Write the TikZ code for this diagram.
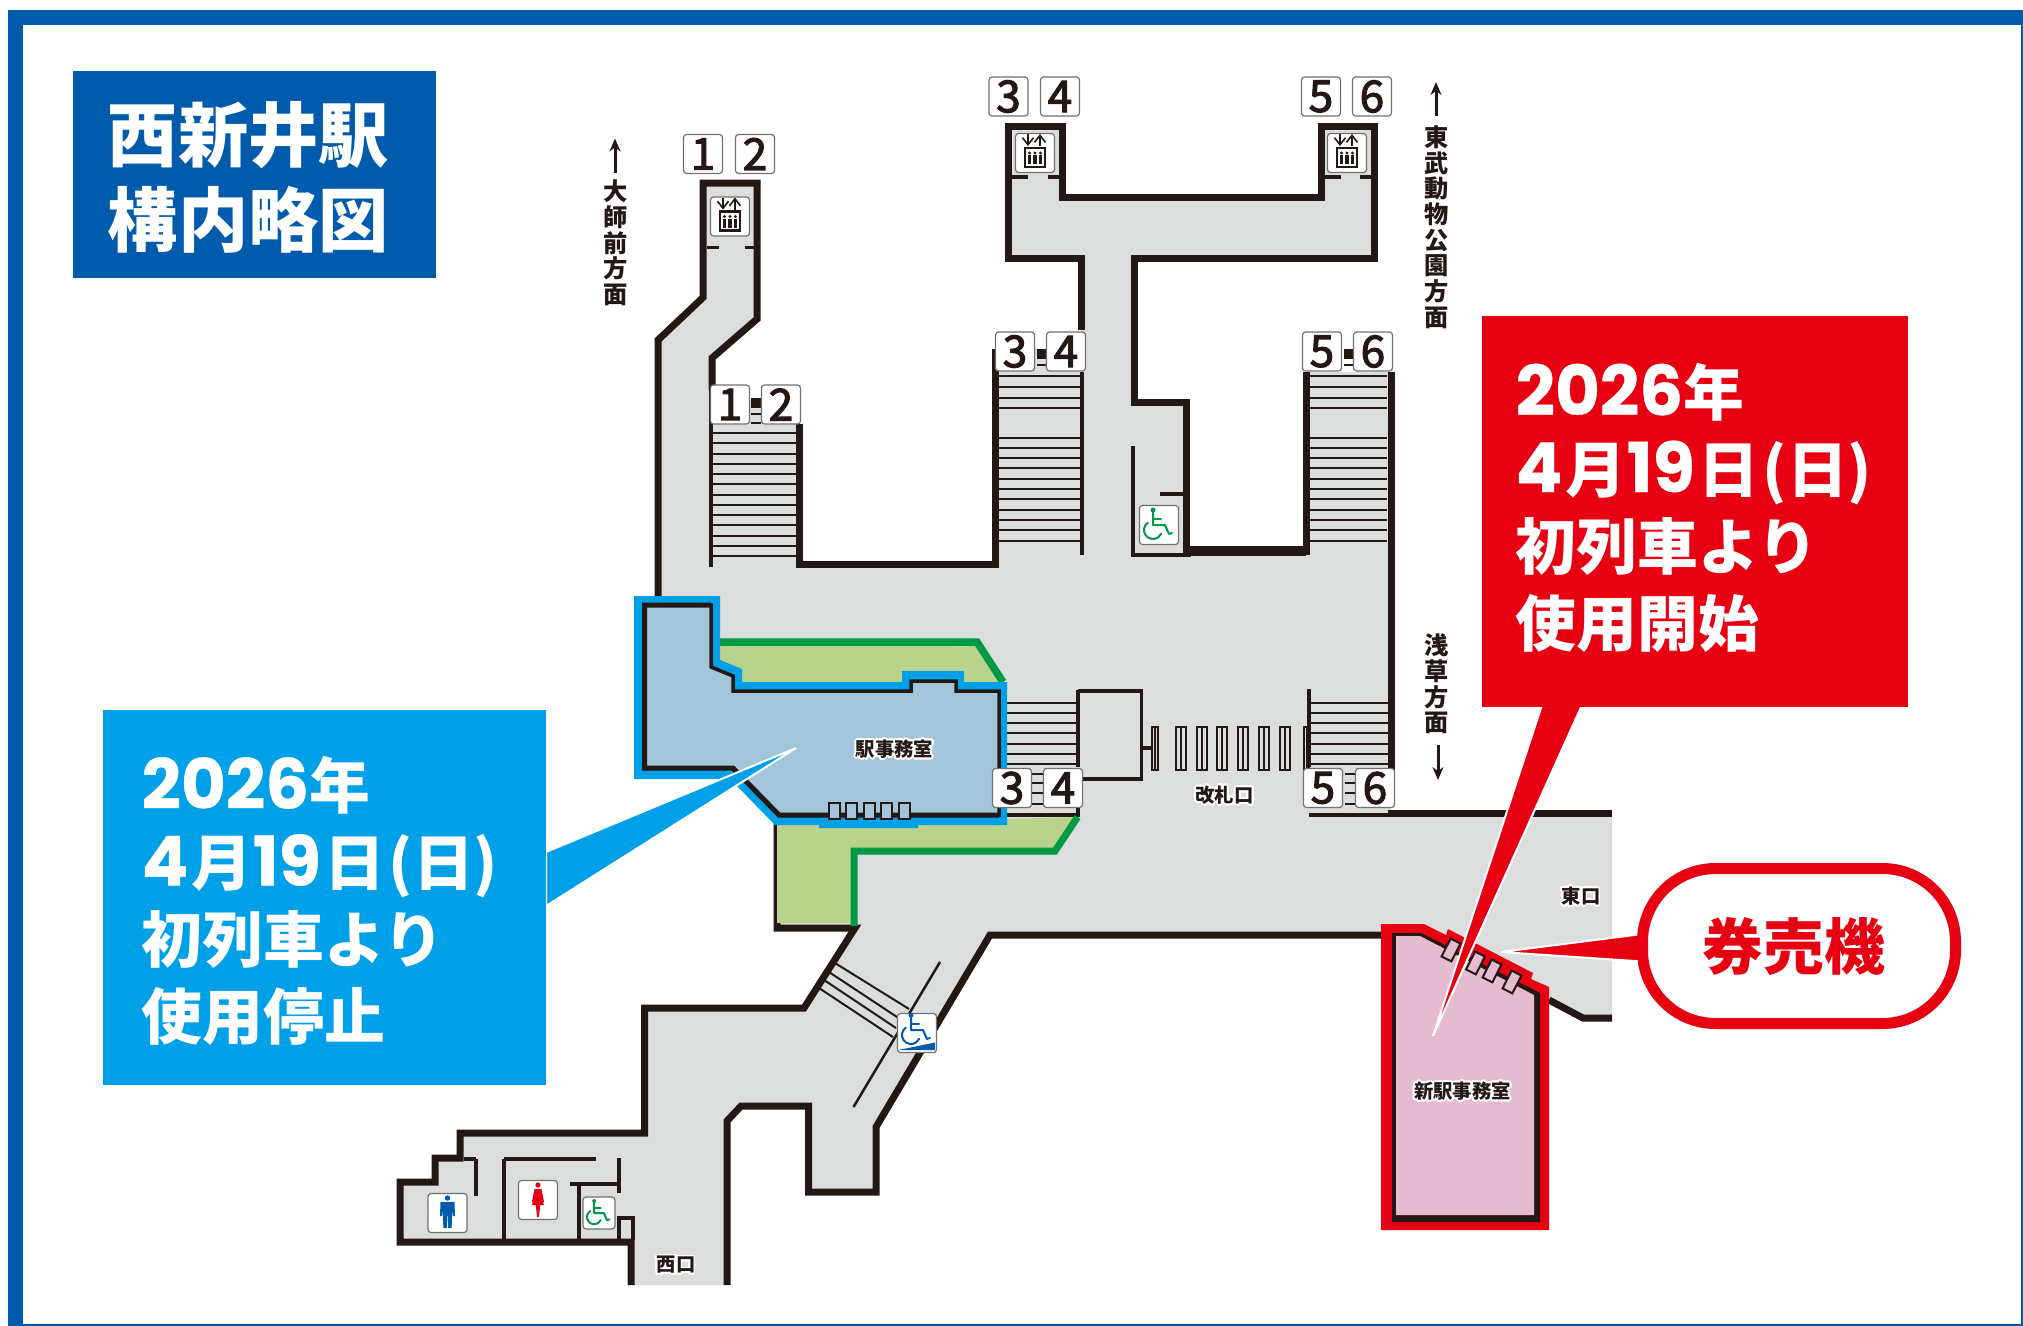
\documentclass[tikz,border=0pt]{standalone}
\usepackage{fontspec}
\usepackage[copies]{contour}
\setmainfont{Noto Sans CJK JP}
\newfontfamily\numfont[FakeBold=2.6]{Noto Sans CJK JP}
\newfontfamily\digfont[FakeBold=0.5]{Poppins}
\contourlength{0.55pt}
\definecolor{framecol}{HTML}{005BAC}
\definecolor{floorcol}{HTML}{DCDDDD}
\definecolor{wallcol}{HTML}{231815}
\definecolor{stopcol}{HTML}{00A0E9}
\definecolor{oldroom}{HTML}{A2C5D9}
\definecolor{startcol}{HTML}{E60012}
\definecolor{newroom}{HTML}{E6BBD0}
\definecolor{greenline}{HTML}{009944}
\definecolor{greenfill}{HTML}{B9D38D}
\definecolor{signline}{HTML}{727171}
\newcommand\labelfont{\fontsize{5.5}{6.5}\selectfont}
\newcommand\dirfont{\fontsize{6.9}{7.3}\selectfont\bfseries}
\newcommand\dg[1]{{\digfont\fontsize{19.6}{21.9}\selectfont #1}}
\usetikzlibrary{arrows.meta}
\begin{document}
\begin{tikzpicture}
	[x=0.1mm,y=-0.1mm,%
	wall/.style ={draw=wallcol,	line width=0.7mm,	line join=miter},%
	thinwall/.style ={draw=wallcol,	line width=0.35mm},%
	tread/.style ={draw=wallcol,	line width=0.2mm},%
	numsign/.style ={rectangle,	draw=signline,	fill=white,	line width=0.12mm,	rounded corners=0.3mm,	inner sep=0pt,	minimum size=3.9mm,	font=\numfont\fontsize{12.5}{13}\selectfont,	text=wallcol},%
	iconsign/.style ={rectangle,	draw=signline,	fill=white,	line width=0.12mm,	rounded corners=0.3mm,	inner sep=0pt,	minimum size=3.9mm},%
	gate/.style ={rectangle,	draw=wallcol,	fill=floorcol,	line width=0.2mm,	inner sep=0pt,	minimum height=4.3mm,	minimum width=1mm},%
	machine/.style ={rectangle,	draw=wallcol,	line width=0.2mm,	inner sep=0pt,	minimum height=1.6mm,	minimum width=1.1mm},%
	maplabel/.style ={font=\labelfont\bfseries,	text=wallcol,	inner sep=0pt},%
	callout/.style ={rectangle,	inner sep=0pt},%
	callouttext/.style ={inner sep=0pt,	anchor=west,	text=white,	align=left,	font=\bfseries\fontsize{17.3}{21.9}\selectfont},%
	]

	\newcommand\wheelchair[4]{%
		\begin{scope}[shift={(#1,#2)},scale=#3,draw=#4,fill=#4,line width=0.2mm,line cap=round,line join=round]
			\fill [#4] (-6,-15) circle (2.5);
			\draw (-6,-13) -- (-6,0) -- (6,0) -- (10,9) -- (13,8);
			\draw (-6,-6) -- (2,-6);
			\draw (-6,5) ++(-125:9) arc [start angle=-125, end angle=-335, radius=9];
		\end{scope}}
	\newcommand\lift[2]{%
		\begin{scope}[shift={(#1,#2)}]
			\draw [-{Straight Barb[length=0.7mm,width=1.1mm]}, wallcol, line width=0.16mm] (-7,-19) -- (-7,-7);
			\draw [-{Straight Barb[length=0.7mm,width=1.1mm]}, wallcol, line width=0.16mm] (5,-7) -- (5,-19);
			\draw [wallcol, line width=0.25mm] (-10,-5) rectangle (10,14);
			\foreach \p in {-5.5,0,5.5} {
				\fill [wallcol] (\p,0) circle (1.6);
				\draw [wallcol, line width=0.32mm] (\p,2) -- (\p,11);
			}
		\end{scope}}

	% frame
	\fill [framecol] (8,10) rectangle (2023,1326);
	\fill [white] (23,25) rectangle (2021,1324);
	\useasboundingbox (0,0) rectangle (2023,1326);
	\node (title) at (254.5,174.5) [rectangle, fill=framecol, minimum width=36.3mm, minimum height=20.7mm, inner sep=0pt] {};
	\node (titletext) at (248.5,177) [inner sep=0pt, text=white, align=center, font=\bfseries\fontsize{20}{24.2}\selectfont] {西新井駅\\構内略図};

	% floor
	\fill [floorcol] (703,183) -- (757,183) -- (757,319) -- (712,358) -- (712,400) -- (799,400) -- (799,564) -- (995,564) -- (995,349) -- (1081,349) -- (1081,258) -- (1008,258) -- (1008,126) -- (1062,126) -- (1062,197) -- (1321,197) -- (1321,126) -- (1374,126) -- (1374,258) -- (1134,258) -- (1134,402) -- (1186,402) -- (1186,551) -- (1306,551) -- (1306,372) -- (1391,372) -- (1391,813) -- (1612,813) -- (1612,1018) -- (1583,1018) -- (1549,1000) -- (1383,935) -- (990,935) -- (876,1127) -- (876,1192) -- (808.6,1192) -- (808.6,1106) -- (741,1106) -- (727,1121) -- (727,1285) -- (631,1285) -- (631,1242) -- (400,1242) -- (400,1182) -- (435,1182) -- (435,1158) -- (460,1158) -- (460,1133) -- (644.5,1133) -- (644.5,1008) -- (804,1008) -- (855,928) -- (777,928) -- (777,822) -- (745,780) -- (700,775) -- (700,600) -- (658,600) -- (658,340) -- (703,297.5) -- cycle;

	% stairs
	\foreach \i in {0,...,12}
		\draw [tread] (712,433+10.25*\i) -- (796,433+10.25*\i);
	\foreach \y in {376,387,397.5,408,438,448,458,468,478.6,489,499,510,520,530,541} {
		\draw [tread] (998,\y) -- (1081,\y);
		\draw [tread] (1309,\y) -- (1387,\y);
	}
	\foreach \y in {703,713,723,733,744,754,764} {
		\draw [tread] (1007,\y) -- (1077,\y);
		\draw [tread] (1310,\y) -- (1388,\y);
	}
	\foreach \y in {774,783,793,804} {
		\draw [tread] (1032,\y) -- (1043,\y);
		\draw [tread] (1344.5,\y) -- (1355,\y);
	}
	% ramp
	\foreach \a/\b/\c/\d in {835/963/909/1009, 829/972/900/1019, 824/980/896/1028, 819/988/893/1037}
		\draw [thinwall, line width=0.2mm] (\a,\b) -- (\c,\d);
	\draw [thinwall, line width=0.25mm] (940,962) -- (853.5,1107);

	% walls
	\draw [wall] (658,600) -- (658,340) -- (703,297.5) -- (703,183) -- (757,183) -- (757,319) -- (712,358) -- (712,390);
	\draw [wall] (799,424) -- (799,564) -- (995,564) -- (995,349);
	\draw [wall] (1081,330) -- (1081,258) -- (1008,258) -- (1008,126) -- (1062,126) -- (1062,197) -- (1321,197) -- (1321,126) -- (1374,126) -- (1374,258) -- (1134,258) -- (1134,402) -- (1186,402) -- (1186,551) -- (1306,551) -- (1306,372);
	\draw [wall, line width=0.95mm] (1186,551) -- (1306,551);
	\draw [wall] (1391,372) -- (1391,770);
	\draw [wall] (1388,813) -- (1612,813);
	\draw [wall] (1400,935) -- (990,935) -- (876,1127) -- (876,1192) -- (808.6,1192) -- (808.6,1106) -- (741,1106) -- (727,1121) -- (727,1285);
	\draw [wall] (631,1285) -- (631,1242) -- (400,1242) -- (400,1182) -- (435,1182) -- (435,1158) -- (460,1158) -- (460,1133) -- (644.5,1133) -- (644.5,1008) -- (804,1008) -- (855,928) -- (777,928) -- (777,822);
	\draw [wall] (1612,1018) -- (1583,1018) -- (1549,1000);

	% thin walls
	\foreach \a/\b/\c/\d in {711/385/711/567, 1082/372/1082/555, 1131/555/1191/555, 1133/446/1133/555, 1160/494/1186/494, 707/247.5/719/247.5, 745/247.5/757/247.5, 1011/177/1028/177, 1048/177/1061/177, 1325/177/1341/177, 1360/177/1372/177, 1078/690/1078/767, 1078/808/1078/817, 1007/815/1078/815, 1309/689/1309/767, 1309/815/1388/815, 1152/748/1142/748, 504/1159/596/1159, 504/1159/504/1240, 570/1184/619/1184, 619/1158/619/1193, 579/1184/579/1240, 464/1159/476/1159, 476/1159/476/1196}
		\draw [thinwall] (\a,\b) -- (\c,\d);
	\draw [thinwall] (619,1240) -- (619,1218) -- (633,1218) -- (633,1240);
	\draw [thinwall] (1083,779) -- (1141.5,779) -- (1141.5,691) -- (1077.6,691);
	\foreach \x/\y in {1041.5/353.5, 1348.5/353.5, 756/402.5}
		\fill [wallcol] (\x-5,\y-5) rectangle (\x+5,\y+5);
	\foreach \x/\y in {1042/365, 1348.5/365, 756/413.5, 756/423}
		\draw [tread] (\x-5,\y) -- (\x+5,\y);

	% gates
	\foreach \n/\x/\w in {0/1155/0.6, 1/1181/1, 2/1202/1, 3/1222/1, 4/1243/1, 5/1264/1, 6/1285/1, 7/1306.5/0.5} {
		\node (gate\n) at (\x,748.5) [gate, minimum width=\w mm] {};
		\draw [tread] (gate\n.north) -- (gate\n.south);
	}

	% green areas
	\fill [greenfill] (720,642) -- (977,642) -- (1003,682) -- (720,682) -- cycle;
	\draw [greenline, line width=0.75mm] (720,642) -- (977,642) -- (1003,682);
	\fill [greenfill] (777,825) -- (1077,817) -- (1056,851) -- (854,851) -- (854,923) -- (777,923) -- cycle;
	\draw [greenline, line width=0.7mm] (1077.6,817) -- (1055,851) -- (854,851) -- (854,926);

	% old office
	\fill [stopcol] (634,596) -- (720,596) -- (720,660) -- (742,669) -- (742,682) -- (902,682) -- (902,671) -- (964,671) -- (964,682) -- (1007,682) -- (1007,825) -- (918,825) -- (918,828) -- (819,828) -- (819,825) -- (775,825) -- (738,787) -- (717,779) -- (634,779) -- cycle;
	\draw [fill=oldroom, draw=wallcol, line width=0.35mm] (644.5,605) -- (711,605) -- (711,667) -- (733,676) -- (733,691) -- (911,691) -- (911,681) -- (956,681) -- (956,691) -- (999,691) -- (999,815) -- (779,815) -- (733,768) -- (644.5,768) -- cycle;
	\draw [wall, line width=0.5mm] (711,605) -- (644.5,605) -- (644.5,768) -- (733,768) -- (779,815) -- (999,815);
	\foreach \n/\x in {0/834, 1/851.5, 2/869, 3/886.5, 4/904}
		\node (oldmachine\n) at (\x,811) [machine, fill=oldroom] {};
	\node (oldname) at (894.5,750) [maplabel] {\contour{white}{駅事務室}};

	% new office
	\fill [startcol] (1381,924) -- (1424,924) -- (1446,935) -- (1448,929) -- (1533,973) -- (1531,979) -- (1549,987) -- (1549,1230) -- (1381,1230) -- cycle;
	\fill [wallcol] (1392,933) -- (1421,933) -- (1540,993) -- (1540,1222) -- (1392,1222) -- cycle;
	\fill [newroom] (1396,936) -- (1420,936) -- (1534,995) -- (1534,1215) -- (1396,1215) -- cycle;
	\foreach \n/\x/\y in {0/1451/950, 1/1475.5/963, 2/1492/971, 3/1512/982}
		\node (newmachine\n) at (\x,\y) [machine, fill=newroom, minimum height=2mm, rotate=-27] {};
	\node (newname) at (1462.5,1092) [maplabel] {\contour{white}{新駅事務室}};

	% other labels
	\node (gatename) at (1224.6,796) [maplabel] {\contour{white}{改札口}};
	\node (eastname) at (1581,897) [maplabel] {\contour{white}{東口}};
	\node (westname) at (676,1266) [maplabel] {\contour{white}{西口}};

	% direction labels
	\node (dirdaishi) at (616,243) [inner sep=0pt, align=center, font=\dirfont, text=wallcol] {大\\師\\前\\方\\面};
	\coordinate (arrdaishi) at (615,138.5);
	\draw [-{Stealth[length=1.3mm,width=1.1mm]}, wallcol, line width=0.3mm] (615,172.5) -- (arrdaishi);
	\node (dirtobu) at (1437,227) [inner sep=0pt, align=center, font=\dirfont, text=wallcol] {東\\武\\動\\物\\公\\園\\方\\面};
	\coordinate (arrtobu) at (1436,82);
	\draw [-{Stealth[length=1.3mm,width=1.1mm]}, wallcol, line width=0.3mm] (1436,116) -- (arrtobu);
	\node (dirasakusa) at (1437,684) [inner sep=0pt, align=center, font=\dirfont, text=wallcol] {浅\\草\\方\\面};
	\coordinate (arrasakusa) at (1438,780);
	\draw [-{Stealth[length=1.3mm,width=1.1mm]}, wallcol, line width=0.3mm] (1438,745) -- (arrasakusa);

	% number signs
	\foreach \n/\t/\x/\y in {a1/1/703/154, a2/2/755/154, b3/3/1008.5/96.5, b4/4/1060/96.5, c5/5/1321/96.5, c6/6/1372/96.5, %
												d1/1/730/404.5, d2/2/781/404.5, e3/3/1015/351.5, e4/4/1066/351.5, f5/5/1322/351.5, f6/6/1373/351.5, %
												g3/3/1012/788, g4/4/1063/788, h5/5/1323/788, h6/6/1375/788 %
												}
		\node (sign\n) at (\x,\y) [numsign] {\t};

	% icons
	\foreach \n/\x/\y in {0/730/216.5, 1/1035/153, 2/1347/153} {
		\node (liftsign\n) at (\x,\y) [iconsign] {};
		\lift{\x}{\y}
	}
	\node (chairsign0) at (1159,525) [iconsign] {};
	\wheelchair{1159}{525}{1}{greenline}
	\node (chairsign1) at (599,1213) [iconsign, minimum size=3.2mm] {};
	\wheelchair{599}{1213}{0.8}{greenline}
	\node (rampsign) at (917,1033) [iconsign] {};
	\wheelchair{917}{1030}{1}{framecol}
	\fill [framecol] (898.5,1050) -- (935,1042.5) -- (935,1050) -- cycle;
	\node (mansign) at (447.5,1213) [iconsign] {};
	\begin{scope}[shift={(447.5,1213)}]
		\fill [framecol] (0,-15) circle (2.7);
		\fill [framecol] (-7,-11) -- (7,-11) -- (7.5,3) -- (5.2,3) -- (4.5,-3) -- (4.2,15) -- (0.6,15) -- (0.4,3) -- (-0.4,3) -- (-0.6,15) -- (-4.2,15) -- (-4.5,-3) -- (-5.2,3) -- (-7.5,3) -- cycle;
	\end{scope}
	\node (womansign) at (538,1200) [iconsign] {};
	\begin{scope}[shift={(538,1200)}]
		\fill [startcol] (0,-15) circle (2.6);
		\fill [startcol] (-3.5,-11) -- (3.5,-11) -- (6,2) -- (4.5,2) -- (3,-4) -- (6,5) -- (2.2,5) -- (1,17) -- (-1,17) -- (-2.2,5) -- (-6,5) -- (-3,-4) -- (-4.5,2) -- (-6,2) -- cycle;
	\end{scope}

	% callouts
	\draw [fill=stopcol, draw=white, line width=0.2mm] (546,852) -- (796,748) -- (546,906) -- cycle;
	\node (stopbox) at (324.5,897.5) [callout, fill=stopcol, minimum width=44.3mm, minimum height=37.5mm] {};
	\node (stoptext) at (141,901) [callouttext] {\dg{2026}年\\\dg{4}\kern1pt月\dg{19}\kern1pt日\kern1pt(日)\\初列車より\\使用停止};
	\draw [fill=startcol, draw=white, line width=0.2mm] (1542,705) -- (1433,1036) -- (1582,705) -- cycle;
	\node (startbox) at (1695,511.5) [callout, fill=startcol, minimum width=42.6mm, minimum height=39.1mm] {};
	\node (starttext) at (1515,507.5) [callouttext] {\dg{2026}年\\\dg{4}\kern1pt月\dg{19}\kern1pt日\kern1pt(日)\\初列車より\\使用開始};
	\draw [fill=startcol, draw=white, line width=0.2mm] (1650,933) -- (1501,952) -- (1650,962) -- cycle;
	\node (machinepill) at (1799,946) [rectangle, rounded corners=7.3mm, draw=startcol, fill=white, line width=1.1mm, minimum width=31.3mm, minimum height=15.5mm, inner sep=0pt, text=startcol, font=\bfseries\fontsize{17.3}{20}\selectfont] {券売機\hspace*{1mm}};

\end{tikzpicture}
\end{document}
